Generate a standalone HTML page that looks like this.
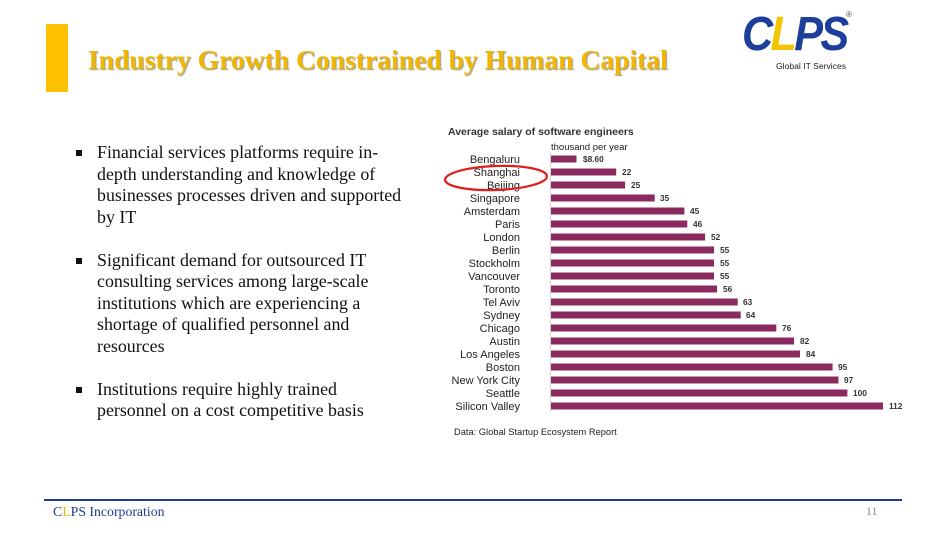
<!DOCTYPE html>
<html>
<head>
<meta charset="utf-8">
<style>
  html,body{margin:0;padding:0;background:#fff;}
  body{width:950px;height:535px;position:relative;overflow:hidden;font-family:"Liberation Serif",serif;}
  .abs{position:absolute;}
  .bar{left:46px;top:24px;width:22px;height:68px;background:#FFC000;}
  .title{left:88px;top:44px;font-family:"Liberation Serif",serif;font-weight:bold;font-size:27.6px;color:#F2B600;text-shadow:1px 1px 1px #9a9a9a;white-space:nowrap;letter-spacing:0px;}
  .bullets{left:76px;top:142px;width:360px;font-size:17.9px;line-height:21.5px;color:#111;white-space:nowrap;}
  .b{position:relative;padding-left:21px;margin-bottom:21.5px;}
  .b:before{content:"";position:absolute;left:0;top:8px;width:6px;height:6px;background:#111;}
  .logo{left:742px;top:10px;font-family:"Liberation Sans",sans-serif;font-weight:bold;font-size:48px;color:#1b3f9a;letter-spacing:-3px;transform:scaleX(0.9);transform-origin:left top;font-style:italic;line-height:50px;}
  .gis{left:776px;top:61px;font-family:"Liberation Sans",sans-serif;font-size:8.6px;color:#222;}
  .reg{left:846px;top:10px;font-family:"Liberation Sans",sans-serif;font-size:8px;color:#444;}
  .fline{left:44px;top:499px;width:858px;height:2px;background:#1f3d8c;}
  .ftext{left:53px;top:504px;font-size:13.8px;color:#1f3d8c;}
  .pg{left:866px;top:504px;font-size:12px;color:#8a8a8a;}
</style>
</head>
<body>
<div class="abs bar"></div>
<div class="abs title">Industry Growth Constrained by Human Capital</div>

<div class="abs logo">C<span style="color:#F5C400">L</span>PS</div>
<div class="abs reg">®</div>
<div class="abs gis">Global IT Services</div>

<div class="abs bullets">
  <div class="b">Financial services platforms require in-<br>depth understanding and knowledge of<br>businesses processes driven and supported<br>by IT</div>
  <div class="b">Significant demand for outsourced IT<br>consulting services among large-scale<br>institutions which are experiencing a<br>shortage of qualified personnel and<br>resources</div>
  <div class="b">Institutions require highly trained<br>personnel on a cost competitive basis</div>
</div>

<svg class="abs" style="left:0;top:0" width="950" height="535" viewBox="0 0 950 535" font-family="Liberation Sans, sans-serif">
  <text x="448" y="135" font-size="10.5" font-weight="bold" fill="#333">Average salary of software engineers</text>
  <text x="551" y="150" font-size="9.5" fill="#222">thousand per year</text>
  <line x1="550.5" y1="152" x2="550.5" y2="412" stroke="#d6d6d6" stroke-width="1"/>
  <g font-size="11" fill="#222" text-anchor="end">
    <text x="520" y="163">Bengaluru</text>
    <text x="520" y="176">Shanghai</text>
    <text x="520" y="189">Beijing</text>
    <text x="520" y="202">Singapore</text>
    <text x="520" y="215">Amsterdam</text>
    <text x="520" y="228">Paris</text>
    <text x="520" y="241">London</text>
    <text x="520" y="254">Berlin</text>
    <text x="520" y="267">Stockholm</text>
    <text x="520" y="280">Vancouver</text>
    <text x="520" y="293">Toronto</text>
    <text x="520" y="306">Tel Aviv</text>
    <text x="520" y="319">Sydney</text>
    <text x="520" y="332">Chicago</text>
    <text x="520" y="345">Austin</text>
    <text x="520" y="358">Los Angeles</text>
    <text x="520" y="371">Boston</text>
    <text x="520" y="384">New York City</text>
    <text x="520" y="397">Seattle</text>
    <text x="520" y="410">Silicon Valley</text>
  </g>
  <g fill="#8B2A5E">
    <rect x="551" y="155.5" width="25.5" height="7"/>
    <rect x="551" y="168.5" width="65.2" height="7"/>
    <rect x="551" y="181.5" width="74.1" height="7"/>
    <rect x="551" y="194.5" width="103.7" height="7"/>
    <rect x="551" y="207.5" width="133.4" height="7"/>
    <rect x="551" y="220.5" width="136.3" height="7"/>
    <rect x="551" y="233.5" width="154.1" height="7"/>
    <rect x="551" y="246.5" width="163" height="7"/>
    <rect x="551" y="259.5" width="163" height="7"/>
    <rect x="551" y="272.5" width="163" height="7"/>
    <rect x="551" y="285.5" width="166" height="7"/>
    <rect x="551" y="298.5" width="186.7" height="7"/>
    <rect x="551" y="311.5" width="189.7" height="7"/>
    <rect x="551" y="324.5" width="225.3" height="7"/>
    <rect x="551" y="337.5" width="243" height="7"/>
    <rect x="551" y="350.5" width="249" height="7"/>
    <rect x="551" y="363.5" width="281.6" height="7"/>
    <rect x="551" y="376.5" width="287.5" height="7"/>
    <rect x="551" y="389.5" width="296.4" height="7"/>
    <rect x="551" y="402.5" width="332" height="7"/>
  </g>
  <g font-size="8.3" font-weight="bold" fill="#333">
    <text x="583" y="162">$8.60</text>
    <text x="622" y="175">22</text>
    <text x="631" y="188">25</text>
    <text x="660" y="201">35</text>
    <text x="690" y="214">45</text>
    <text x="693" y="227">46</text>
    <text x="711" y="240">52</text>
    <text x="720" y="253">55</text>
    <text x="720" y="266">55</text>
    <text x="720" y="279">55</text>
    <text x="723" y="292">56</text>
    <text x="743" y="305">63</text>
    <text x="746" y="318">64</text>
    <text x="782" y="331">76</text>
    <text x="800" y="344">82</text>
    <text x="806" y="357">84</text>
    <text x="838" y="370">95</text>
    <text x="844" y="383">97</text>
    <text x="853" y="396">100</text>
    <text x="889" y="409">112</text>
  </g>
  <ellipse cx="496" cy="178" rx="51" ry="12" fill="none" stroke="#e01e1e" stroke-width="2.2" transform="rotate(-2 496 178)"/>
  <text x="454" y="435" font-size="9.3" fill="#222">Data: Global Startup Ecosystem Report</text>
</svg>

<div class="abs fline"></div>
<div class="abs ftext">C<span style="color:#F5B400">L</span>PS Incorporation</div>
<div class="abs pg">11</div>
</body>
</html>
